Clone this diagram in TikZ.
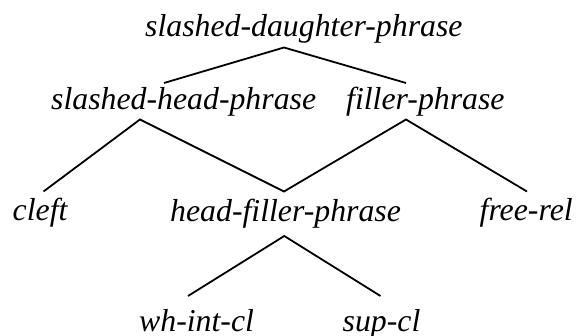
\documentclass[tikz,border=0pt]{standalone}
\usepackage{fontspec}
\setmainfont{Liberation Serif}
\begin{document}
\begin{tikzpicture}[x=1pt,y=-1pt,
  lbl/.style={inner sep=0pt, anchor=base west, font=\fontsize{31.8}{38}\selectfont\itshape},
  edge/.style={line width=1.8pt, line cap=butt, line join=miter}]
\useasboundingbox (0,0) rectangle (582,336);
% nodes
\node[lbl] (sdp) at (145,36.5) {slashed-daughter-phrase};
\node[lbl] (shp) at (51,110) {slashed-head-phrase};
\node[lbl] (fp)  at (346,110) {filler-phrase};
\node[lbl] (cl)  at (12.5,221) {cleft};
\node[lbl] (hfp) at (170,221.5) {head-filler-phrase};
\node[lbl] (fr)  at (479.5,221) {free-rel};
\node[lbl] (wh)  at (139,331.5) {wh-int-cl};
\node[lbl] (sup) at (342.5,331.5) {sup-cl};
% attachment points
\coordinate (sdp-b) at (284,47.5);
\coordinate (shp-t) at (164,83);
\coordinate (fp-t)  at (406,83);
\coordinate (shp-b) at (140,119.5);
\coordinate (fp-b)  at (406,119.5);
\coordinate (cl-t)  at (43.5,191.5);
\coordinate (hfp-t) at (284,191.5);
\coordinate (fr-t)  at (527,191.5);
\coordinate (hfp-b) at (284.3,236);
\coordinate (wh-t)  at (188,296);
\coordinate (sup-t) at (380.5,296);
% connectors
\draw[edge] (shp-t) -- (sdp-b) -- (fp-t);
\draw[edge] (cl-t) -- (shp-b) -- (hfp-t) -- (fp-b) -- (fr-t);
\draw[edge] (wh-t) -- (hfp-b) -- (sup-t);
\end{tikzpicture}
\end{document}
